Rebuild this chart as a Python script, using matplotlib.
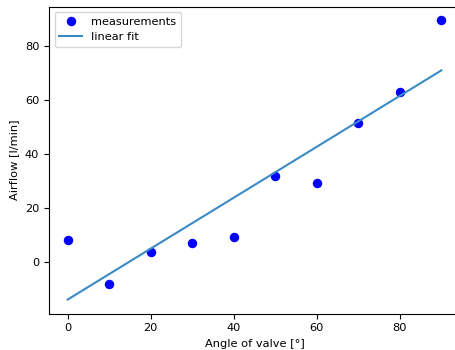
import numpy as np
import matplotlib
matplotlib.use("Agg")
import matplotlib.pyplot as plt

plt.rcParams['font.size'] = 8.2

angle = [0, 10, 20, 30, 40, 50, 60, 70, 80, 90]
airflow = [8.2, -7.8, 4.0, 7.3, 9.5, 31.8, 29.5, 51.5, 63.0, 89.5]

fig = plt.figure(figsize=(4.55, 3.5), dpi=100)
ax = fig.add_axes([49/455, 36.5/350, 411/455, 307/350])

x = np.array(angle, dtype=float)
y = np.array(airflow, dtype=float)
slope, intercept = np.polyfit(x, y, 1)

ax.plot(x, y, 'o', color='blue', markersize=5.8, label='measurements')
ax.plot(x, slope * x + intercept, color='#3a8ac6', linewidth=1.5, label='linear fit')
ax.set_xlabel('Angle of valve [°]')
ax.set_ylabel('Airflow [l/min]')
ax.legend(loc='upper left')

fig.savefig('out.png', dpi=100)
